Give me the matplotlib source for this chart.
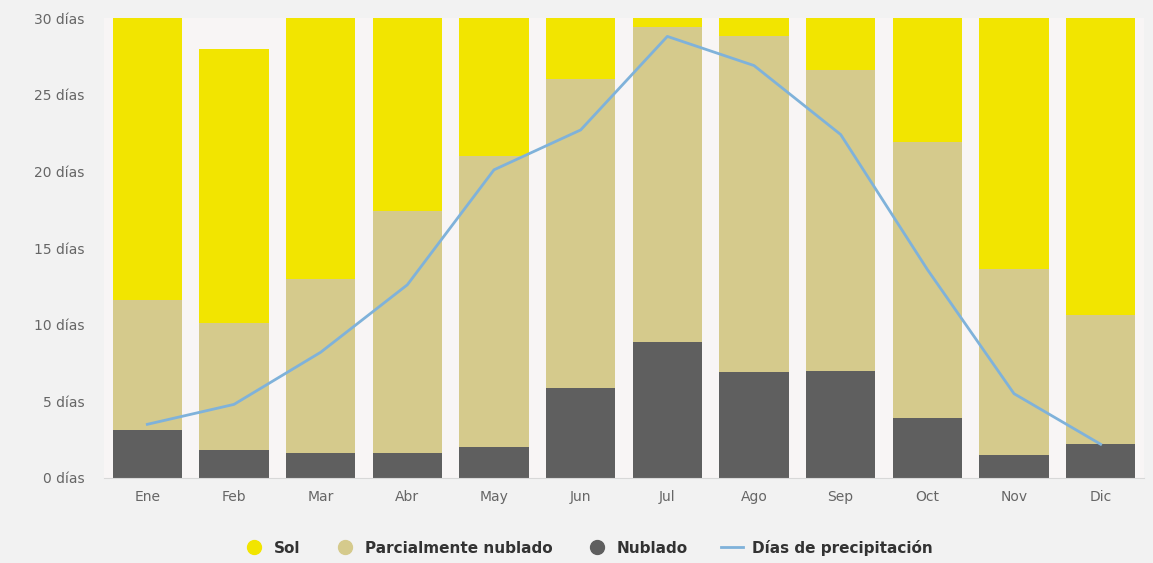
import numpy as np
import matplotlib
matplotlib.use("Agg")
import matplotlib.pyplot as plt
from matplotlib.lines import Line2D

months = ["Ene", "Feb", "Mar", "Abr", "May", "Jun", "Jul", "Ago", "Sep", "Oct", "Nov", "Dic"]
nublado = [3.1, 1.8, 1.6, 1.6, 2.0, 5.9, 8.9, 6.9, 7.0, 3.9, 1.5, 2.2]
parcial = [8.5, 8.3, 11.4, 15.8, 19.0, 20.1, 20.5, 21.9, 19.6, 18.0, 12.1, 8.4]
sol = [19.4, 17.9, 18.0, 12.6, 10.0, 4.0, 1.6, 2.2, 3.4, 9.1, 16.4, 20.4]
precip = [3.5, 4.8, 8.2, 12.6, 20.1, 22.7, 28.8, 26.9, 22.4, 13.6, 5.5, 2.2]
yticks = [0, 5, 10, 15, 20, 25, 30]

C_SOL = "#f2e500"
C_PARC = "#d5ca8c"
C_NUB = "#5f5f5f"
C_LINE = "#7fb2da"

fig = plt.figure(figsize=(11.53, 5.63), dpi=100, facecolor="#f2f2f2")
ax = fig.add_axes([0.0902, 0.151, 0.902, 0.817])
ax.set_facecolor("#f8f5f5")

x = np.arange(len(months))
w = 0.8
nub = np.array(nublado)
par = np.array(parcial)
ax.bar(x, nub, w, color=C_NUB, zorder=2)
ax.bar(x, par, w, bottom=nub, color=C_PARC, zorder=2)
ax.bar(x, sol, w, bottom=nub + par, color=C_SOL, zorder=2)
ax.plot(x, precip, color=C_LINE, lw=2, zorder=3)

ax.set_xlim(-0.5, len(months) - 0.5)
ax.set_ylim(0, 30)
ax.set_yticks(yticks)
ax.set_yticklabels([f"{t} días" for t in yticks])
ax.set_xticks(x)
ax.set_xticklabels(months)
ax.tick_params(axis="both", length=0, labelsize=10, colors="#666666")
ax.tick_params(axis="x", pad=9)
ax.tick_params(axis="y", pad=14)
for s in ["top", "right", "left"]:
    ax.spines[s].set_visible(False)
ax.spines["bottom"].set_color("#d8d8d8")

handles = [
    Line2D([], [], marker="o", ls="", color=C_SOL, markersize=10),
    Line2D([], [], marker="o", ls="", color=C_PARC, markersize=10),
    Line2D([], [], marker="o", ls="", color=C_NUB, markersize=10),
    Line2D([], [], color=C_LINE, lw=2),
]
labels = ["Sol", "Parcialmente nublado", "Nublado", "Días de precipitación"]
leg = fig.legend(handles, labels, loc="center", bbox_to_anchor=(0.51, 0.027), ncol=4,
                 frameon=False, fontsize=11, handlelength=1.4, columnspacing=2.2,
                 handletextpad=0.6)
for t in leg.get_texts():
    t.set_fontweight("bold")
    t.set_color("#333333")

fig.savefig("out.png", dpi=100, facecolor=fig.get_facecolor())
